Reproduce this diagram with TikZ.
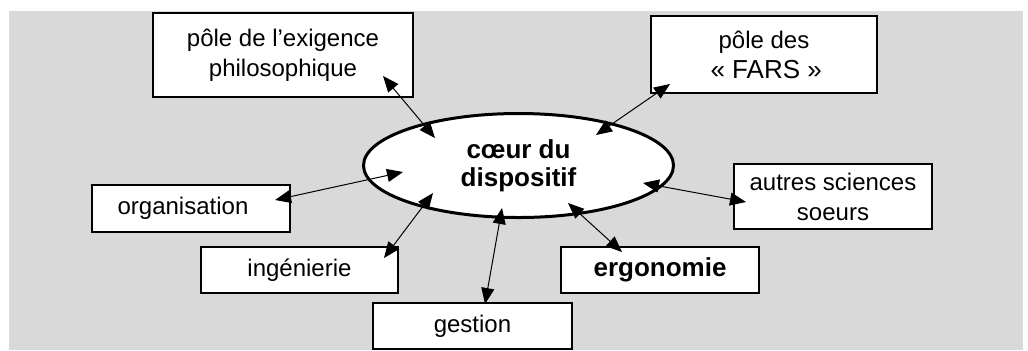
\documentclass[tikz,border=0pt]{standalone}
\usepackage{fontspec}
\setmainfont{Liberation Sans}
\usepackage{xcolor}
\usepackage{tikz}
\usetikzlibrary{arrows.meta}
\usetikzlibrary{shapes.geometric}
\definecolor{bggray}{RGB}{217,217,217}

\begin{document}
\begin{tikzpicture}[x=0.5pt, y=-0.5pt,
	line/.style={<->, >={Triangle[length=8pt,width=6.5pt]}, line width=0.5pt},
	pole/.style={draw, fill=white, line width=1pt, inner sep=0pt, align=center, font=\fontsize{12}{15}\selectfont}]
	\useasboundingbox (0,0) rectangle (1028,350);
	\fill[bggray] (9,11) rectangle (1023,350);
	% centre
	\node[draw, ellipse, fill=white, line width=1.5pt, minimum width=155pt, minimum height=52pt, inner sep=0pt, align=center, font=\bfseries\fontsize{13}{14}\selectfont] (Coeur) at (518.5,165.5) {cœur du\\dispositif};
	% poles
	\node[pole, minimum width=130pt, minimum height=42pt] (Philo) at (283,55) {pôle de l’exigence\\philosophique};
	\node[pole, minimum width=113pt, minimum height=38.5pt] (Fars) at (764,54.5) {pôle des\\{\fontsize{13}{15}\selectfont\,« FARS »}};
	\node[pole, minimum width=99pt, minimum height=23.5pt] (Orga) at (191,208.5) {organisation\hspace*{8pt}};
	\node[pole, minimum width=98.5pt, minimum height=23pt] (Inge) at (299.5,270) {ingénierie};
	\node[pole, minimum width=99.5pt, minimum height=23pt] (Gestion) at (472.5,326) {gestion};
	\node[pole, minimum width=99pt, minimum height=23pt, font=\bfseries\fontsize{13}{15}\selectfont] (Ergo) at (660,270) {ergonomie};
	\node[pole, minimum width=99pt, minimum height=32.5pt] (Autres) at (833,196.5) {autres sciences\\soeurs};
	% links
	\draw[line] ([shift={(-31,-22)}]Philo.south east) -- ([shift={(-83.5,-27.5)}]Coeur.center);
	\draw[line] ([shift={(20,-10)}]Fars.south west) -- ([shift={(77.5,-30.5)}]Coeur.center);
	\draw[line] ([shift={(-16,-8.5)}]Orga.east) -- ([shift={(-115.5,6.5)}]Coeur.center);
	\draw[line] ([shift={(-15,12)}]Inge.north east) -- ([shift={(-85.5,27.5)}]Coeur.center);
	\draw[line] ([shift={(12.5,2)}]Gestion.north) -- ([shift={(-16.5,42.5)}]Coeur.center);
	\draw[line] ([shift={(-38,6)}]Ergo.north) -- ([shift={(49.5,37.5)}]Coeur.center);
	\draw[line] ([shift={(13,5.5)}]Autres.west) -- ([shift={(124.5,17.5)}]Coeur.center);
\end{tikzpicture}
\end{document}
